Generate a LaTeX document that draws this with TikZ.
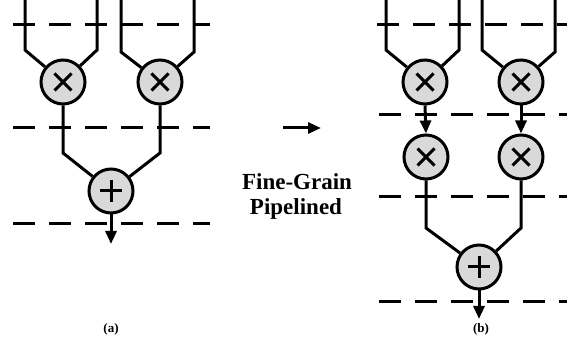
\documentclass[tikz,border=0pt]{standalone}
\usepackage{fontspec}
\setmainfont{Liberation Serif}
\usetikzlibrary{arrows.meta}
\definecolor{opfill}{HTML}{D9D9D9}
\tikzset{
  wire/.style={line width=3pt, line join=miter},
  stage/.style={line width=3pt, dash pattern=on 22pt off 14pt},
  opnode/.style={circle, draw, line width=3pt, fill=opfill, minimum size=44pt, inner sep=0pt},
  mult/.style={opnode, path picture={
      \draw[line width=3pt] ([shift={(-8.5pt,-8.5pt)}]path picture bounding box.center) -- ([shift={(8.5pt,8.5pt)}]path picture bounding box.center);
      \draw[line width=3pt] ([shift={(-8.5pt,8.5pt)}]path picture bounding box.center) -- ([shift={(8.5pt,-8.5pt)}]path picture bounding box.center);}},
  addn/.style={opnode, path picture={
      \draw[line width=3pt] ([shift={(-11pt,0pt)}]path picture bounding box.center) -- ([shift={(11pt,0pt)}]path picture bounding box.center);
      \draw[line width=3pt] ([shift={(0pt,-11pt)}]path picture bounding box.center) -- ([shift={(0pt,11pt)}]path picture bounding box.center);}},
  tip/.style={-{Triangle[width=11pt,length=13pt]}},
  caption/.style={font=\bfseries\fontsize{13pt}{15pt}\selectfont},
  bigtext/.style={font=\bfseries\fontsize{23pt}{25pt}\selectfont, anchor=base, inner sep=0pt}
}
\begin{document}
\begin{tikzpicture}[x=1pt,y=-1pt]
\useasboundingbox (0,0) rectangle (567,352);
% ---------- (a) ----------
\draw[stage] (13,25) -- (210,25);
\draw[stage] (13,128) -- (210,128);
\draw[stage] (13,224) -- (210,224);
\node[mult] (m1) at (63,82) {};
\node[mult] (m2) at (160,82) {};
\node[addn] (a1) at (111,191) {};
\coordinate (i1) at (25,0);
\coordinate (i2) at (97,0);
\coordinate (i3) at (121,0);
\coordinate (i4) at (194,0);
\coordinate (o1) at (111,244);
\draw[wire] (i1) -- (25,50) -- (m1);
\draw[wire] (i2) -- (97,50) -- (m1);
\draw[wire] (i3) -- (121,52) -- (m2);
\draw[wire] (i4) -- (194,52) -- (m2);
\draw[wire] (m1.south) -- (63,153) -- (a1);
\draw[wire] (m2.south) -- (160,153) -- (a1);
\draw[wire,tip] (a1.south) -- (o1);
% ---------- middle ----------
\coordinate (ma) at (283,128);
\coordinate (mb) at (321,128);
\draw[wire,tip] (ma) -- (mb);
\node[bigtext] (t1) at (297,190) {Fine-Grain};
\node[bigtext] (t2) at (296,215) {Pipelined};
% ---------- (b) ----------
\draw[stage] (377,25) -- (567,25);
\draw[stage] (379,115) -- (567,115);
\draw[stage] (379,197) -- (567,197);
\draw[stage] (379,302) -- (567,302);
\node[mult] (r1) at (425,82) {};
\node[mult] (r2) at (521,82) {};
\node[mult] (r3) at (426,157) {};
\node[mult] (r4) at (521,157) {};
\node[addn] (ra) at (479,267) {};
\coordinate (j1) at (386,0);
\coordinate (j2) at (459,0);
\coordinate (j3) at (482,0);
\coordinate (j4) at (555,0);
\coordinate (o2) at (479,319);
\draw[wire] (j1) -- (386,50) -- (r1);
\draw[wire] (j2) -- (459,50) -- (r1);
\draw[wire] (j3) -- (482,50) -- (r2);
\draw[wire] (j4) -- (555,52) -- (r2);
\draw[wire,tip] (r1.south) -- (r3.north);
\draw[wire,tip] (r2.south) -- (r4.north);
\draw[wire] (r3.south) -- (426,228) -- (ra);
\draw[wire] (r4.south) -- (521,228) -- (ra);
\draw[wire,tip] (ra.south) -- (o2);
% ---------- captions ----------
\node[caption] (ca) at (111,329) {(a)};
\node[caption] (cb) at (481,329) {(b)};
\end{tikzpicture}
\end{document}
